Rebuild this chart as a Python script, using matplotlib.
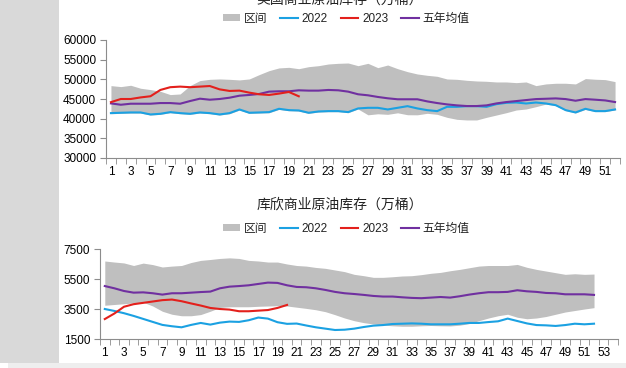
import matplotlib
matplotlib.use('Agg')
import matplotlib.pyplot as plt
from matplotlib.patches import Rectangle
from matplotlib.ticker import FixedLocator

plt.rcParams['font.family'] = ['Liberation Sans', 'Noto Sans CJK SC', 'DejaVu Sans']

# ---------------- data: US commercial crude stocks ----------------
us_weeks = list(range(1, 53))
us_upper = [48400, 48150, 48490, 47730, 47390, 46960, 46120, 46280, 48400, 49680,
            50000, 50100, 50000, 49850, 50100, 51200, 52210, 52900, 53050, 52700,
            53220, 53470, 53900, 54070, 54150, 53470, 54070, 52970, 53640, 52710,
            51950, 51360, 51020, 50770, 50090, 50000, 49750, 49580, 49500, 49330,
            49330, 49160, 49330, 48400, 48830, 49000, 49000, 48830, 50190, 50020,
            49930, 49420]
us_lower = [41260, 41350, 41430, 41430, 40920, 41090, 41510, 41260, 41090, 41430,
            41260, 40920, 41260, 42190, 41350, 41430, 41510, 42360, 42020, 41940,
            41350, 41680, 41770, 41770, 41520, 42450, 40980, 41240, 41100, 41490,
            41000, 40980, 41360, 41100, 40340, 39830, 39670, 39670, 40340, 40930,
            41520, 42200, 42460, 43050, 43700, 43300, 42050, 41450, 42350, 41800,
            41800, 42200]
us_2022 = [41410, 41500, 41580, 41580, 41070, 41240, 41660, 41410, 41240, 41580,
           41410, 41070, 41410, 42340, 41500, 41580, 41660, 42510, 42170, 42090,
           41500, 41830, 41920, 41920, 41670, 42600, 42760, 42760, 42340, 42760,
           43180, 42600, 42170, 41920, 43010, 43010, 43180, 43180, 43010, 43690,
           44030, 44110, 43860, 44110, 43860, 43430, 42170, 41580, 42510, 41920,
           41920, 42340]
us_2023 = [44200, 45000, 45000, 45400, 45700, 47300, 48000, 48150, 48000, 48150,
           48300, 47450, 47050, 47130, 46620, 46200, 46030, 46370, 46790, 45690]
us_avg = [43880, 43540, 43800, 43800, 43800, 43970, 43970, 43800, 44480, 45080,
          44820, 45000, 45330, 45840, 46030, 46280, 46870, 46960, 46960, 47210,
          47130, 47130, 47300, 47210, 46870, 46200, 45940, 45520, 45180, 44930,
          44930, 44930, 44390, 43970, 43630, 43380, 43210, 43210, 43380, 43880,
          44220, 44470, 44730, 44980, 45060, 45150, 44980, 44560, 44980, 44820,
          44640, 44220]
us_yticks = [30000, 35000, 40000, 45000, 50000, 55000, 60000]

# ---------------- data: Cushing commercial crude stocks ----------------
cu_weeks = list(range(1, 53))
cu_upper = [6700, 6630, 6570, 6400, 6560, 6460, 6300, 6360, 6400, 6600,
            6740, 6800, 6870, 6910, 6870, 6740, 6700, 6630, 6630, 6500,
            6400, 6360, 6270, 6210, 6100, 5990, 5810, 5720, 5610, 5610,
            5650, 5700, 5720, 5790, 5880, 5940, 6050, 6140, 6250, 6360,
            6400, 6400, 6400, 6470, 6280, 6140, 6030, 5920, 5810, 5850,
            5810, 5830]
cu_lower = [3750, 3800, 3850, 3900, 3950, 3700, 3350, 3150, 3050, 3050,
            3130, 3350, 3600, 3650, 3650, 3650, 3680, 3700, 3720, 3700,
            3620, 3540, 3450, 3320, 3120, 2900, 2720, 2590, 2500, 2430,
            2380, 2350, 2350, 2380, 2400, 2380, 2370, 2420, 2530, 2720,
            2900, 3050, 3150, 2950, 2850, 2900, 3000, 3150, 3300, 3400,
            3500, 3590]
cu_2022 = [3500, 3370, 3220, 3040, 2840, 2640, 2440, 2350, 2280, 2440,
           2570, 2460, 2590, 2660, 2640, 2750, 2930, 2860, 2620, 2510,
           2530, 2400, 2280, 2190, 2100, 2120, 2190, 2300, 2390, 2430,
           2500, 2520, 2540, 2520, 2480, 2480, 2480, 2520, 2570, 2570,
           2630, 2680, 2860, 2700, 2540, 2430, 2410, 2370, 2430, 2520,
           2480, 2520]
cu_2023 = [2830, 3200, 3650, 3820, 3910, 4000, 4090, 4130, 4020, 3870,
           3730, 3570, 3500, 3460, 3350, 3350, 3390, 3430, 3570, 3770]
cu_avg = [5030, 4880, 4700, 4590, 4610, 4550, 4460, 4550, 4550, 4590,
          4630, 4660, 4880, 4990, 5030, 5080, 5170, 5260, 5240, 5080,
          4970, 4950, 4880, 4770, 4640, 4550, 4500, 4440, 4370, 4330,
          4330, 4280, 4240, 4220, 4260, 4300, 4260, 4350, 4460, 4550,
          4620, 4620, 4640, 4750, 4680, 4640, 4570, 4550, 4480, 4480,
          4480, 4440]
cu_yticks = [1500, 3500, 5500, 7500]

labels = ['区间', '2022', '2023', '五年均值']
title_us = '美国商业原油库存（万桶）'
title_cu = '库欣商业原油库存（万桶）'

C_BAND = '#bfbfbf'
C_2022 = '#1ba1e2'
C_2023 = '#e3201c'
C_AVG = '#7030a0'
C_AX = '#8c8c8c'

W, H = 626, 368
fig = plt.figure(figsize=(W / 100, H / 100), dpi=100)
fig.patch.set_facecolor('white')

# left grey strip and bottom band
fig.add_artist(Rectangle((0, 1 - 363 / H), 59 / W, 363 / H, transform=fig.transFigure,
                         facecolor='#d9d9d9', edgecolor='none', zorder=0))
fig.add_artist(Rectangle((8 / W, 0), 1 - 8 / W, 5 / H, transform=fig.transFigure,
                         facecolor='#eeeeee', edgecolor='none', zorder=0))


def make_axes(rect_px, weeks, upper, lower, s22, s23, avg, yticks, ncat, legend_y):
    l, r, t, b = rect_px
    ax = fig.add_axes([l / W, 1 - b / H, (r - l) / W, (b - t) / H])
    ax.fill_between(weeks, lower, upper, color=C_BAND, lw=0, label=labels[0], zorder=1)
    ax.plot(weeks, s22, color=C_2022, lw=1.5, label=labels[1], zorder=3)
    ax.plot(weeks[:len(s23)], s23, color=C_2023, lw=1.5, label=labels[2], zorder=4)
    ax.plot(weeks, avg, color=C_AVG, lw=1.5, label=labels[3], zorder=3)
    ax.set_xlim(0.5, ncat + 0.5)
    ax.set_ylim(yticks[0], yticks[-1])
    ax.set_yticks(yticks)
    ax.set_xticks(list(range(1, ncat + 1, 2)))
    ax.xaxis.set_minor_locator(FixedLocator([k + 0.5 for k in range(0, ncat + 1)]))
    ax.tick_params(axis='x', which='major', length=0, labelsize=8.5, pad=6, colors='black')
    ax.tick_params(axis='x', which='minor', length=4, color=C_AX, direction='out')
    ax.tick_params(axis='y', which='major', length=4, color=C_AX, labelsize=8.5, pad=3,
                   direction='out')
    for s in ['top', 'right']:
        ax.spines[s].set_visible(False)
    for s in ['left', 'bottom']:
        ax.spines[s].set_color(C_AX)
        ax.spines[s].set_linewidth(0.8)
    ax.set_facecolor('none')
    leg = ax.legend(loc='center', bbox_to_anchor=(346 / W, 1 - legend_y / H),
                    bbox_transform=fig.transFigure, ncol=4, frameon=False,
                    fontsize=8.5, handlelength=1.5, handleheight=0.5,
                    handletextpad=0.3, columnspacing=1.1, borderpad=0)
    for txt in leg.get_texts():
        txt.set_color('#222222')
    return ax


ax1 = make_axes((106, 620, 40, 158), us_weeks, us_upper, us_lower, us_2022, us_2023,
                us_avg, us_yticks, 52, 19)
ax2 = make_axes((100, 618, 249, 339), cu_weeks, cu_upper, cu_lower, cu_2022, cu_2023,
                cu_avg, cu_yticks, 54, 229)

fig.text(340 / W, 1 - 4 / H, title_us, ha='center', va='baseline', fontsize=10,
         family=['Noto Sans CJK SC', 'DejaVu Sans'], color='#222222')
fig.text(340 / W, 1 - 209 / H, title_cu, ha='center', va='baseline', fontsize=10,
         family=['Noto Sans CJK SC', 'DejaVu Sans'], color='#222222')

fig.savefig('out.png', dpi=100)
